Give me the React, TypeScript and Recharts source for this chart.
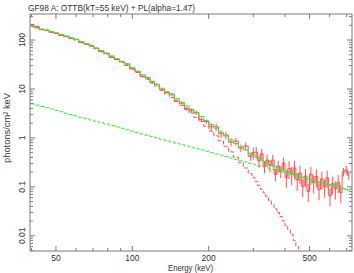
import { ComposedChart, Line, XAxis, YAxis, ErrorBar } from "recharts";

const RED = "#ff5050";
const GREEN = "#3ee23e";
const AXIS = "#7a7a7a";
const TEXT = "#333";
const FONT = "'Liberation Sans', Arial, sans-serif";

// bin centres (keV)
const energy = [
  40, 42, 44, 46, 48, 50, 52.5, 55, 57.5, 60, 63, 66, 69, 72, 75.5, 79, 83, 87, 91, 95.5, 100,
  105, 110, 115, 120, 125, 131, 137, 143, 150, 157, 164, 171, 179, 187, 196, 205, 214, 224, 234, 245, 256, 268, 280, 293,
  300, 308, 316, 324, 332, 340, 349, 358, 367, 376, 385, 395, 405, 415, 425, 436, 447, 458, 470, 482, 494, 506, 519,
  532, 545, 559, 573, 587, 602, 617, 632, 648, 664, 680, 697, 714,
];

// measured spectrum
const counts = [
  208, 190, 163, 159, 144, 136, 124, 118, 108, 103, 89, 82.5, 77.8, 68, 58, 52.8, 44.1, 40.0, 36.0, 32.6, 25.8,
  22.4, 18.0, 17.0, 13.8, 12.4, 9.6, 8.5, 7.9, 5.7, 5.15, 3.98, 3.6, 3.3, 2.36, 2.16, 1.69, 1.69, 1.21, 1.14, 0.82, 0.86, 0.62, 0.68, 0.42,
  0.5, 0.515, 0.34, 0.475, 0.263, 0.354, 0.275, 0.352, 0.179, 0.267, 0.208, 0.307, 0.156, 0.238, 0.18, 0.244, 0.138, 0.191,
  0.103, 0.167, 0.081, 0.183, 0.122, 0.163, 0.088, 0.146, 0.1, 0.153, 0.066, 0.116, 0.092, 0.124, 0.076, 0.203, 0.223, 0.172,
];
const errors = [
  6, 5.5, 5, 4.8, 4.3, 4.1, 3.7, 3.5, 3.3, 4, 3.6, 3.3, 3.1, 2.7, 2.3, 2.1, 1.8, 1.6, 1.45, 1.3, 1.55,
  1.35, 1.1, 1.0, 0.83, 0.75, 0.58, 0.51, 0.48, 0.4, 0.5, 0.4, 0.36, 0.33, 0.24, 0.22, 0.3, 0.3, 0.22, 0.2, 0.15, 0.15, 0.11, 0.12, 0.08,
  0.14, 0.14, 0.095, 0.13, 0.075, 0.1, 0.077, 0.1, 0.05, 0.075, 0.058, 0.086, 0.06, 0.095, 0.072, 0.098, 0.055, 0.076,
  0.041, 0.067, 0.032, 0.073, 0.049, 0.065, 0.035, 0.058, 0.04, 0.061, 0.026, 0.046, 0.037, 0.05, 0.03, 0.04, 0.045, 0.035,
];

// total model
const total = [
  192.7, 179.7, 168.2, 158.9, 149.9, 140.7, 130.2, 120.5, 111.8, 102.8, 92.8, 84.2, 76.3, 68.6, 61.2, 54.4, 47.4, 41.7, 36.7, 31.7, 27.2,
  23.1, 19.6, 16.7, 14.4, 12.3, 10.35, 8.79, 7.54, 6.34, 5.31, 4.52, 3.87, 3.24, 2.74, 2.25, 1.88, 1.575, 1.311, 1.089, 0.909, 0.772, 0.655, 0.566, 0.489,
  0.451, 0.412, 0.379, 0.352, 0.329, 0.308, 0.289, 0.271, 0.256, 0.243, 0.231, 0.219, 0.208, 0.198, 0.19, 0.181, 0.173, 0.166,
  0.158, 0.152, 0.147, 0.141, 0.135, 0.13, 0.126, 0.122, 0.1175, 0.1136, 0.1096, 0.1058, 0.1023, 0.0988, 0.0954, 0.0923, 0.0891, 0.0862,
];

// power-law component
const powerLaw = [
  5.01, 4.68, 4.38, 4.12, 3.88, 3.66, 3.42, 3.2, 3.01, 2.83, 2.64, 2.47, 2.32, 2.19, 2.05, 1.92, 1.79, 1.68, 1.57, 1.47, 1.38,
  1.29, 1.2, 1.13, 1.065, 1.006, 0.941, 0.884, 0.832, 0.778, 0.729, 0.686, 0.646, 0.606, 0.57, 0.533, 0.5, 0.471, 0.442, 0.415, 0.389, 0.366, 0.343, 0.323, 0.302,
  0.293, 0.282, 0.272, 0.263, 0.254, 0.245, 0.236, 0.228, 0.22, 0.213, 0.206, 0.199, 0.192, 0.185, 0.179, 0.173, 0.167, 0.161,
  0.155, 0.15, 0.145, 0.14, 0.135, 0.13, 0.126, 0.122, 0.1175, 0.1136, 0.1096, 0.1058, 0.1023, 0.0988, 0.0954, 0.0923, 0.0891, 0.0862,
];

// OTTB component
const ottb = [
  187.7, 175, 163.8, 154.8, 146, 137, 126.8, 117.3, 108.8, 100, 90.2, 81.7, 74.0, 66.4, 59.1, 52.5, 45.6, 40.0, 35.1, 30.2, 25.8,
  21.8, 18.4, 15.6, 13.3, 11.3, 9.41, 7.91, 6.71, 5.56, 4.58, 3.83, 3.22, 2.63, 2.17, 1.72, 1.377, 1.104, 0.869, 0.674, 0.52, 0.406, 0.312, 0.243, 0.187,
  0.158, 0.1295, 0.1073, 0.0893, 0.0754, 0.0634, 0.0528, 0.0433, 0.0359, 0.0299, 0.0249, 0.0201, 0.0163, 0.0134, 0.0107, 0.0081, 0.0061, 0.0046,
  0.0033, null, null, null, null, null, null, null, null, null, null, null, null, null, null, null, null, null,
];

const xTicks = [40, 50, 60, 70, 80, 90, 100, 200, 300, 400, 500, 600, 700];
const xLabeled = [50, 100, 200, 500];
const yTicks = [
  0.005, 0.006, 0.007, 0.008, 0.009, 0.01, 0.02, 0.03, 0.04, 0.05, 0.06, 0.07, 0.08, 0.09,
  0.1, 0.2, 0.3, 0.4, 0.5, 0.6, 0.7, 0.8, 0.9, 1, 2, 3, 4, 5, 6, 7, 8, 9,
  10, 20, 30, 40, 50, 60, 70, 80, 90, 100, 200, 300,
];
const yLabeled = [0.01, 0.1, 1, 10, 100];

const rows = energy.map((e, i) => ({
  e,
  data: counts[i],
  err: errors[i],
  total: total[i],
  pl: powerLaw[i],
  ottb: ottb[i],
}));

const XTick = (props: any) => {
  const { x, y, payload, top } = props;
  const v = payload.value;
  const major = xLabeled.includes(v);
  const len = major ? 5 : 3;
  return (
    <g>
      <line x1={x} x2={x} y1={y} y2={top ? y + len : y - len} stroke={AXIS} />
      {!top && major && (
        <text x={x} y={y + 10} textAnchor="middle" fontSize={8.5} fill={TEXT} fontFamily={FONT}>
          {v}
        </text>
      )}
    </g>
  );
};

const YTick = (props: any) => {
  const { x, y, payload, right } = props;
  const v = payload.value;
  const major = yLabeled.includes(v);
  const len = major ? 5 : 3;
  return (
    <g>
      <line x1={x} x2={right ? x - len : x + len} y1={y} y2={y} stroke={AXIS} />
      {!right && major && (
        <text
          x={x - 5}
          y={y}
          transform={`rotate(-90 ${x - 5} ${y})`}
          textAnchor="middle"
          fontSize={8.5}
          fill={TEXT}
          fontFamily={FONT}
        >
          {String(v)}
        </text>
      )}
    </g>
  );
};

const xDomain = [39.5, 735];
const yDomain = [0.0049, 340];

export default function App() {
  return (
    <div style={{ position: "absolute", left: 0, top: 0, width: 354, height: 273, background: "#fff" }}>
      <ComposedChart width={354} height={273} data={rows} margin={{ top: 0, right: 0, bottom: 0, left: 0 }}>
        <XAxis
          dataKey="e"
          type="number"
          scale="log"
          domain={xDomain}
          allowDataOverflow
          ticks={xTicks}
          interval={0}
          height={22}
          tickSize={0}
          tickMargin={0}
          stroke={AXIS}
          tick={<XTick />}
        />
        <XAxis
          xAxisId="t"
          orientation="top"
          dataKey="e"
          type="number"
          scale="log"
          domain={xDomain}
          allowDataOverflow
          ticks={xTicks}
          interval={0}
          height={14}
          tickSize={0}
          tickMargin={0}
          stroke={AXIS}
          tick={<XTick top />}
        />
        <YAxis
          type="number"
          scale="log"
          domain={yDomain}
          allowDataOverflow
          ticks={yTicks}
          interval={0}
          width={30}
          tickSize={0}
          tickMargin={0}
          stroke={AXIS}
          tick={<YTick />}
        />
        <YAxis
          yAxisId="r"
          orientation="right"
          type="number"
          scale="log"
          domain={yDomain}
          allowDataOverflow
          ticks={yTicks}
          interval={0}
          width={2}
          tickSize={0}
          tickMargin={0}
          stroke={AXIS}
          tick={<YTick right />}
        />
        <Line
          dataKey="data"
          type="step"
          stroke={RED}
          strokeWidth={1}
          dot={false}
          activeDot={false}
          isAnimationActive={false}
        >
          <ErrorBar dataKey="err" width={0} stroke={RED} strokeWidth={1} direction="y" isAnimationActive={false} />
        </Line>
        <Line
          dataKey="ottb"
          type="step"
          stroke={RED}
          strokeWidth={1}
          strokeDasharray="4 2"
          dot={false}
          activeDot={false}
          isAnimationActive={false}
        />
        <Line
          dataKey="pl"
          type="step"
          stroke={GREEN}
          strokeWidth={1}
          strokeDasharray="4 2"
          dot={false}
          activeDot={false}
          isAnimationActive={false}
        />
        <Line
          dataKey="total"
          type="step"
          stroke={GREEN}
          strokeWidth={1}
          dot={false}
          activeDot={false}
          isAnimationActive={false}
        />
      </ComposedChart>
      <svg
        width={354}
        height={273}
        style={{ position: "absolute", left: 0, top: 0, pointerEvents: "none" }}
        fontFamily={FONT}
        fill={TEXT}
      >
        <text x={28} y={10.5} fontSize={9.5} textLength={167} lengthAdjust="spacingAndGlyphs">
          GF98 A: OTTB(kT=55 keV) + PL(alpha=1.47)
        </text>
        <text x={190.5} y={270.5} textAnchor="middle" fontSize={9} textLength={45} lengthAdjust="spacingAndGlyphs">
          Energy (keV)
        </text>
        <text
          x={9.5}
          y={128}
          transform="rotate(-90 9.5 128)"
          textAnchor="middle"
          fontSize={9}
          textLength={70}
          lengthAdjust="spacingAndGlyphs"
        >
          photons/cm² keV
        </text>
      </svg>
    </div>
  );
}
